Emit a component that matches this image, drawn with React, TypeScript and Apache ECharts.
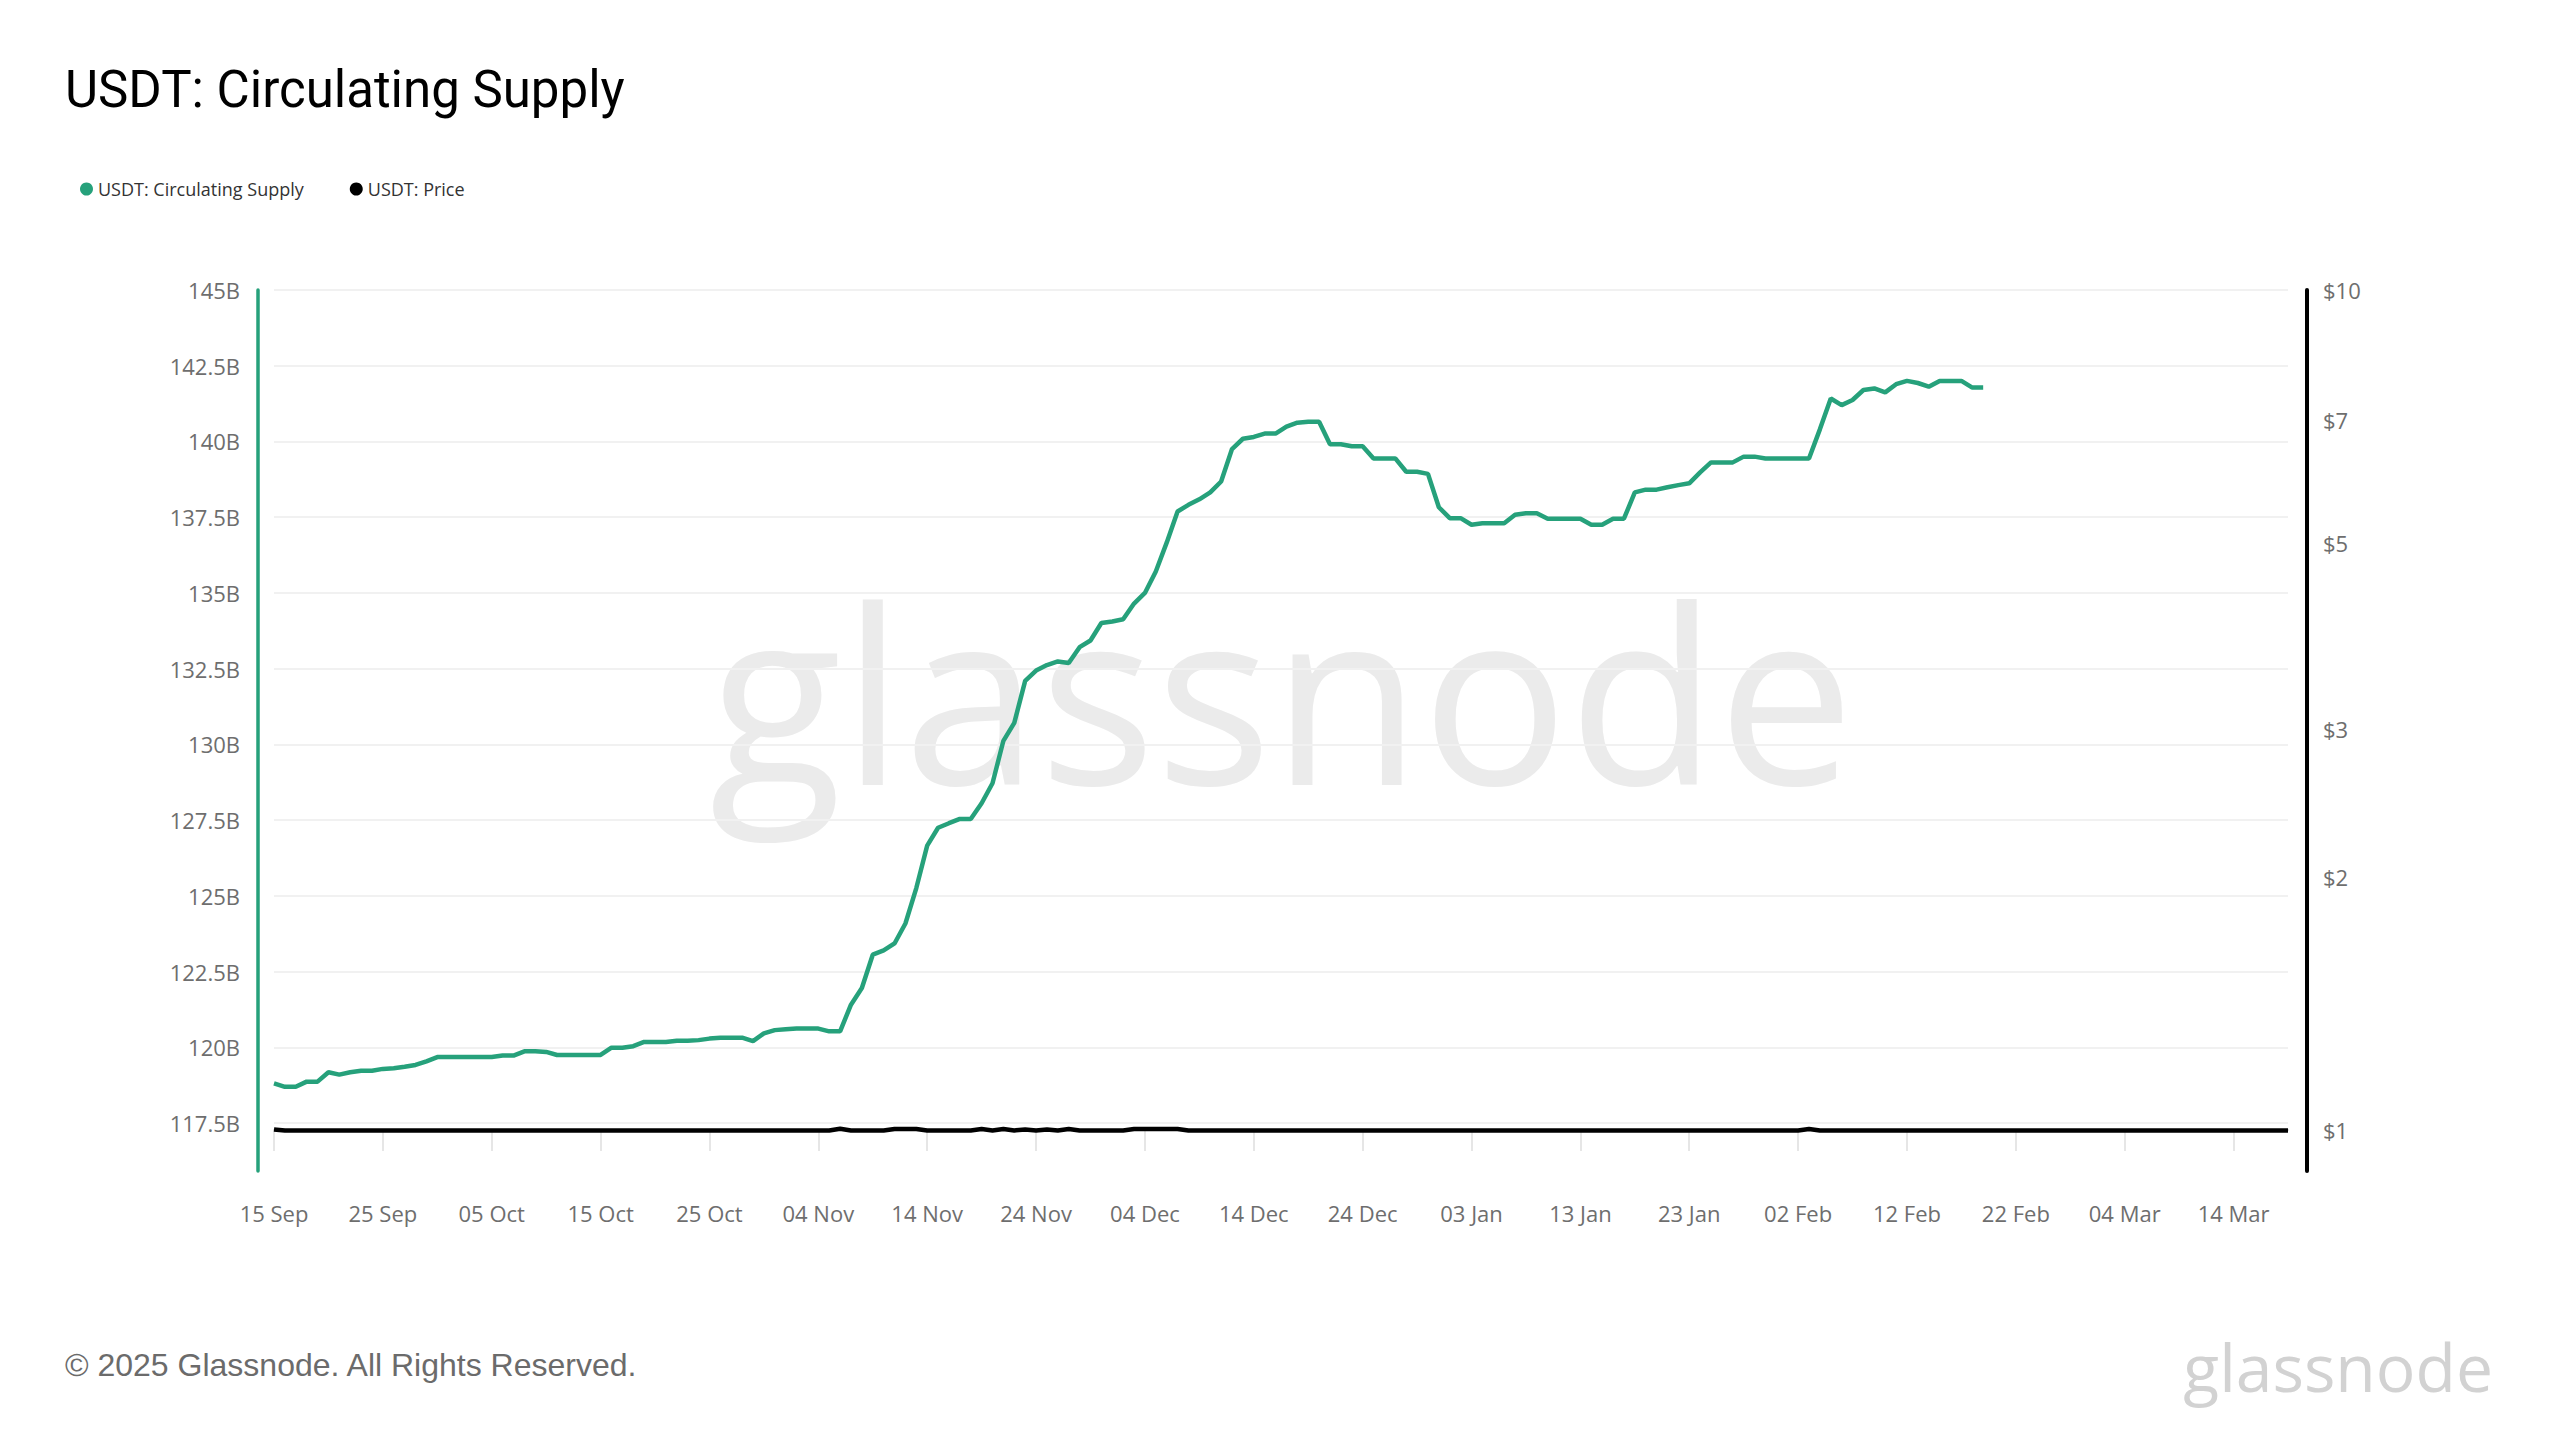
import React, { useEffect, useRef } from 'react';
import * as echarts from 'echarts';

// ---------- data ----------
const START_DATE = Date.UTC(2024, 8, 15); // 15 Sep 2024
const DAY_COUNT = 186; // x axis runs to 19 Mar 2025
const MONTHS = ['Jan', 'Feb', 'Mar', 'Apr', 'May', 'Jun', 'Jul', 'Aug', 'Sep', 'Oct', 'Nov', 'Dec'];

const dates: string[] = Array.from({ length: DAY_COUNT }, (_, i) => {
  const d = new Date(START_DATE + i * 86400000);
  return `${String(d.getUTCDate()).padStart(2, '0')} ${MONTHS[d.getUTCMonth()]}`;
});

// USDT circulating supply, billions (15 Sep 2024 .. 19 Feb 2025)
const supply: number[] = [
  118.81, 118.70, 118.70, 118.87, 118.87, 119.18, 119.10, 119.18, 119.23, 119.23,
  119.29, 119.31, 119.36, 119.42, 119.54, 119.68, 119.68, 119.68, 119.68, 119.68,
  119.68, 119.73, 119.73, 119.87, 119.87, 119.85, 119.75, 119.75, 119.75, 119.75,
  119.75, 119.99, 119.99, 120.04, 120.18, 120.18, 120.18, 120.22, 120.22, 120.24,
  120.29, 120.32, 120.32, 120.32, 120.21, 120.46, 120.57, 120.60, 120.62, 120.62,
  120.62, 120.53, 120.53, 121.41, 121.96, 123.06, 123.20, 123.43, 124.09, 125.26,
  126.66, 127.25, 127.40, 127.54, 127.54, 128.06, 128.72, 130.12, 130.71, 132.10,
  132.44, 132.62, 132.74, 132.69, 133.21, 133.43, 134.01, 134.06, 134.13, 134.65,
  135.00, 135.71, 136.66, 137.69, 137.91, 138.09, 138.32, 138.68, 139.75, 140.09,
  140.15, 140.26, 140.26, 140.49, 140.62, 140.65, 140.65, 139.91, 139.91, 139.84,
  139.84, 139.44, 139.44, 139.44, 139.00, 139.00, 138.93, 137.83, 137.47, 137.47,
  137.25, 137.30, 137.30, 137.30, 137.58, 137.63, 137.63, 137.45, 137.45, 137.45,
  137.45, 137.25, 137.25, 137.45, 137.45, 138.32, 138.41, 138.41, 138.49, 138.56,
  138.62, 138.98, 139.31, 139.31, 139.31, 139.50, 139.50, 139.44, 139.44, 139.44,
  139.44, 139.44, 140.40, 141.42, 141.20, 141.37, 141.70, 141.75, 141.62, 141.89,
  142.00, 141.93, 141.81, 142.00, 142.00, 142.00, 141.78, 141.78,
];

// USDT price, USD (15 Sep 2024 .. 19 Mar 2025)
const price: number[] = [
  1.002, 0.999, 0.999, 0.999, 0.999, 0.999, 0.999, 0.999, 0.999, 0.999,
  0.999, 0.999, 0.999, 0.999, 0.999, 0.999, 0.999, 0.999, 0.999, 0.999,
  0.999, 0.999, 0.999, 0.999, 0.999, 0.999, 0.999, 0.999, 0.999, 0.999,
  0.999, 0.999, 0.999, 0.999, 0.999, 0.999, 0.999, 0.999, 0.999, 0.999,
  0.999, 0.999, 0.999, 0.999, 0.999, 0.999, 0.999, 0.999, 0.999, 0.999,
  0.999, 0.999, 1.004, 0.999, 0.999, 0.999, 0.999, 1.003, 1.003, 1.003,
  0.999, 0.999, 0.999, 0.999, 0.999, 1.003, 0.999, 1.003, 0.999, 1.002,
  0.999, 1.002, 0.999, 1.003, 0.999, 0.999, 0.999, 0.999, 0.999, 1.003,
  1.003, 1.003, 1.003, 1.003, 0.999, 0.999, 0.999, 0.999, 0.999, 0.999,
  0.999, 0.999, 0.999, 0.999, 0.999, 0.999, 0.999, 0.999, 0.999, 0.999,
  0.999, 0.999, 0.999, 0.999, 0.999, 0.999, 0.999, 0.999, 0.999, 0.999,
  0.999, 0.999, 0.999, 0.999, 0.999, 0.999, 0.999, 0.999, 0.999, 0.999,
  0.999, 0.999, 0.999, 0.999, 0.999, 0.999, 0.999, 0.999, 0.999, 0.999,
  0.999, 0.999, 0.999, 0.999, 0.999, 0.999, 0.999, 0.999, 0.999, 0.999,
  0.999, 1.003, 0.999, 0.999, 0.999, 0.999, 0.999, 0.999, 0.999, 0.999,
  0.999, 0.999, 0.999, 0.999, 0.999, 0.999, 0.999, 0.999, 0.999, 0.999,
  0.999, 0.999, 0.999, 0.999, 0.999, 0.999, 0.999, 0.999, 0.999, 0.999,
  0.999, 0.999, 0.999, 0.999, 0.999, 0.999, 0.999, 0.999, 0.999, 0.999,
  0.999, 0.999, 0.999, 0.999, 0.999, 0.999,
];

const supplyTicks: number[] = [117.5, 120, 122.5, 125, 127.5, 130, 132.5, 135, 137.5, 140, 142.5, 145];
const supplyMin = 115.92;
const supplyMax = 145;

const priceTicks: number[] = [1, 2, 3, 5, 7, 10];
const priceMin = 0.894;
const priceMax = 10;

const GREEN = '#26a17b';
const LABEL = '#6e6e6e';
const FONT = '"Open Sans", sans-serif';

export default function App() {
  const ref = useRef<HTMLDivElement>(null);

  useEffect(() => {
    const chart = echarts.init(ref.current!, null, { renderer: 'svg' });
    const logTicks = priceTicks.map((p) => Math.log10(p));

    chart.setOption({
      animation: false,
      backgroundColor: '#ffffff',
      textStyle: { fontFamily: FONT },
      title: {
        text: 'USDT: Circulating Supply',
        left: 60,
        top: 54,
        textStyle: { fontFamily: 'Roboto', fontSize: 51, fontWeight: 'normal', color: '#000', lineHeight: 60 },
      },
      legend: {
        left: 75,
        top: 175,
        icon: 'circle',
        itemWidth: 13,
        itemHeight: 13,
        itemGap: 46,
        data: ['USDT: Circulating Supply', 'USDT: Price'],
        textStyle: { fontFamily: FONT, fontSize: 18, color: '#333' },
      },
      grid: { left: 274, right: 272, top: 290, bottom: 269, containLabel: false, outerBoundsMode: 'none' },
      xAxis: {
        type: 'category',
        data: dates,
        boundaryGap: false,
        axisLine: { show: true, lineStyle: { color: '#d9d9d9', width: 2 } },
        axisTick: { show: true, interval: 9, length: 21, lineStyle: { color: '#e6e6e6', width: 2 } },
        axisLabel: { interval: 9, margin: 31, fontSize: 22, color: LABEL, fontFamily: FONT },
        splitLine: { show: false },
      },
      yAxis: [
        {
          type: 'value',
          position: 'left',
          offset: 16,
          min: supplyMin,
          max: supplyMax,
          axisLine: { show: true, lineStyle: { color: GREEN, width: 3.5 } },
          axisTick: { show: false, customValues: supplyTicks },
          axisLabel: {
            customValues: supplyTicks,
            margin: 18,
            fontSize: 22,
            color: LABEL,
            fontFamily: FONT,
            formatter: (v: number) => `${v}B`,
          },
          splitLine: { show: true, lineStyle: { color: '#f1f1f1', width: 2 } },
        },
        {
          type: 'value',
          position: 'right',
          offset: 19,
          min: Math.log10(priceMin),
          max: Math.log10(priceMax),
          axisLine: { show: true, lineStyle: { color: '#000', width: 4 } },
          axisTick: { show: false, customValues: logTicks },
          axisLabel: {
            customValues: logTicks,
            margin: 16,
            fontSize: 22,
            color: LABEL,
            fontFamily: FONT,
            formatter: (v: number) => `$${Math.round(Math.pow(10, v))}`,
          },
          splitLine: { show: false },
        },
      ],
      series: [
        {
          name: 'USDT: Circulating Supply',
          type: 'line',
          yAxisIndex: 0,
          data: supply,
          showSymbol: false,
          symbol: 'circle',
          itemStyle: { color: GREEN },
          lineStyle: { color: GREEN, width: 4.5 },
          z: 3,
        },
        {
          name: 'USDT: Price',
          type: 'line',
          yAxisIndex: 1,
          data: price.map((p) => Math.log10(p)),
          showSymbol: false,
          symbol: 'circle',
          itemStyle: { color: '#000' },
          lineStyle: { color: '#000', width: 4.5 },
          z: 3,
        },
      ],
      graphic: [
        {
          type: 'text',
          x: 1282,
          y: 690,
          z: 0,
          silent: true,
          style: {
            text: 'glassnode',
            font: `500 244px ${FONT}`,
            fill: '#ebebeb',
            align: 'center',
            verticalAlign: 'middle',
          },
        },
        {
          type: 'text',
          x: 65,
          y: 1365,
          style: {
            text: '© 2025 Glassnode. All Rights Reserved.',
            font: '32px "Liberation Sans", Arial, sans-serif',
            fill: '#6b6b6b',
            align: 'left',
            verticalAlign: 'middle',
          },
        },
        {
          type: 'text',
          x: 2493,
          y: 1366,
          style: {
            text: 'glassnode',
            font: `66px ${FONT}`,
            fill: '#d2d2d2',
            align: 'right',
            verticalAlign: 'middle',
          },
        },
      ],
    });

    return () => chart.dispose();
  }, []);

  return (
    <div
      ref={ref}
      style={{ position: 'fixed', left: 0, top: 0, width: 2560, height: 1440, background: '#fff' }}
    />
  );
}
